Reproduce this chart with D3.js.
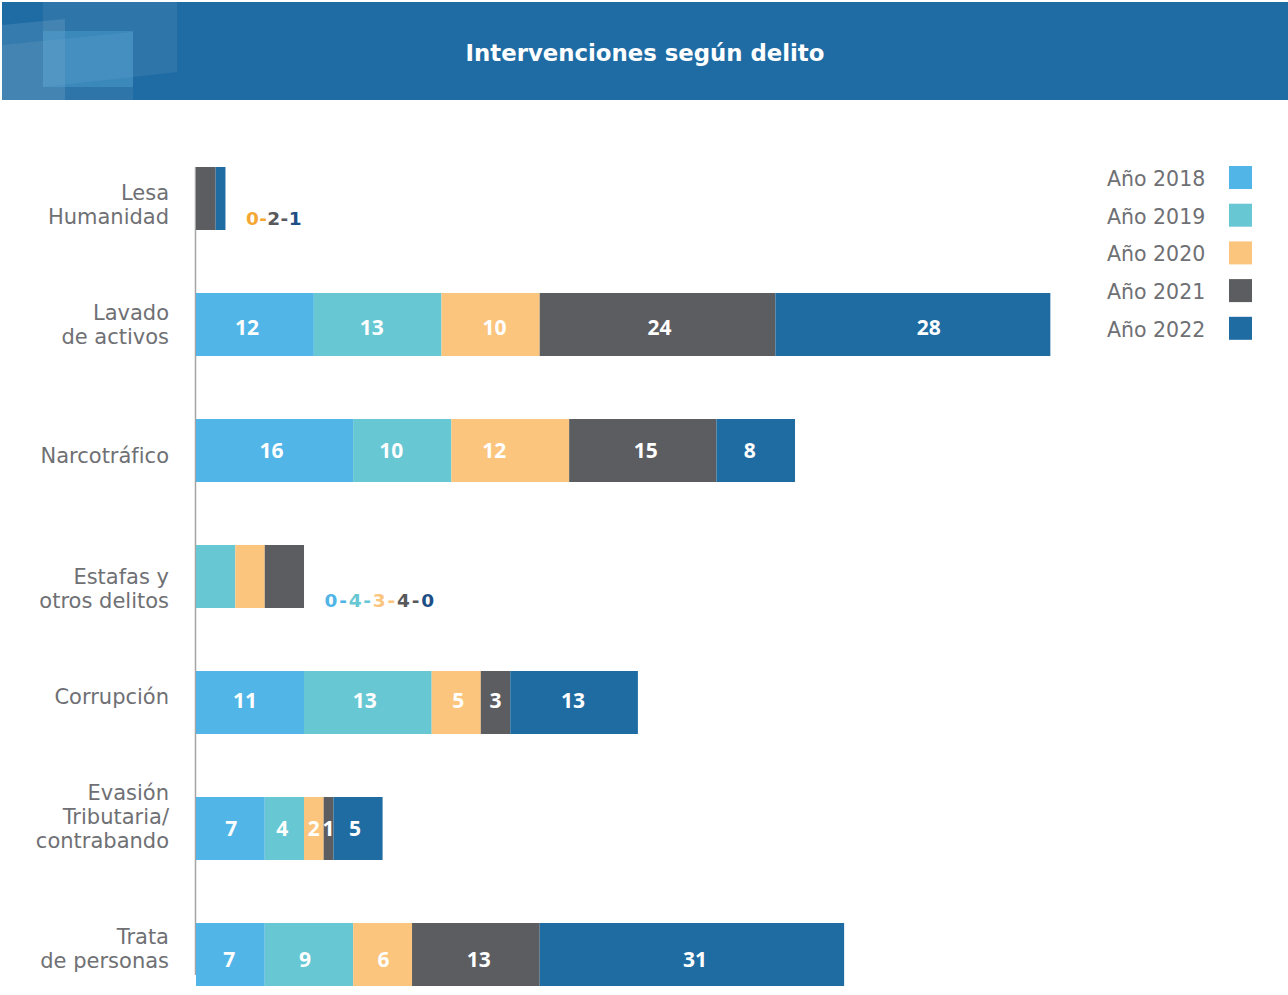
<!DOCTYPE html>
<html lang="es">
<head>
<meta charset="utf-8">
<script src="https://cdn.jsdelivr.net/npm/d3@7"></script>
<style>
  html, body { margin: 0; padding: 0; background: #ffffff; }
  svg { display: block; }
</style>
</head>
<body>
<svg id="chart" width="1288" height="995"></svg>
<script>
// ---- Data -------------------------------------------------------------
const categories = [
  ["Lesa", "Humanidad"],
  ["Lavado", "de activos"],
  ["Narcotráfico"],
  ["Estafas y", "otros delitos"],
  ["Corrupción"],
  ["Evasión", "Tributaria/", "contrabando"],
  ["Trata", "de personas"]
];
const years = ["Año 2018", "Año 2019", "Año 2020", "Año 2021", "Año 2022"];
const v2018 = [0, 12, 16, 0, 11, 7, 7];
const v2019 = [0, 13, 10, 4, 13, 4, 9];
const v2020 = [0, 10, 12, 3, 5, 2, 6];
const v2021 = [2, 24, 15, 4, 3, 1, 13];
const v2022 = [1, 28, 8, 0, 13, 5, 31];
const title = "Intervenciones según delito";

// rows whose values are written inside the segments
const labelInside = [false, true, true, false, true, true, true];
// rows whose values are written as a dashed sequence beside the bar
const sequenceRows = [0, 3];
const sequenceYears = [[2, 3, 4], [0, 1, 2, 3, 4]];

// ---- Style / layout ---------------------------------------------------
const colors = ["#52b5e7", "#67c7d3", "#fbc57e", "#5c5d61", "#1f6ca3"];
const sequencePalettes = [
  ["#4fb4e6", "#67c7d3", "#f4a733", "#58595b", "#1d4f86"],
  ["#4fb4e6", "#67c7d3", "#fbc57e", "#58595b", "#1d4f86"]
];
const sequenceDy = [-5, -1];
const sequenceSpacing = [0.4, 1.8];
const headerColor = "#1f6ca4";
const textGrey = "#6f7074";
const labelNudge = [6, 0, 5, 12, -6, -12, -6];
// hand placement of the in-bar numbers (px, per row then per year)
const valueNudgeX = [
  [0, 0, 0, 0, 0],
  [-8, -6, 4, 2, 16],
  [-3, -11, -16, 3, -6],
  [0, 0, 0, 0, 0],
  [-5, -3, 2, 0, -1],
  [1, -2, 0, 0, -3],
  [-1, -4, 1, 3, 3]
];
const valueNudgeY = [0, 2.5, -0.5, 0, -2.5, -0.5, 4.5];

const svg = d3.select("#chart");

// ---- Header band ------------------------------------------------------
const header = svg.append("g");
header.append("rect")
  .attr("x", 2).attr("y", 2).attr("width", 1286).attr("height", 98)
  .attr("fill", headerColor);
const deco = [
  { pts: [[43, 2], [177, 2], [177, 72], [43, 87]], fill: "#ffffff", op: 0.07 },
  { pts: [[2, 25], [65, 19], [65, 100], [2, 100]], fill: "#ffffff", op: 0.10 },
  { pts: [[2, 45], [133, 32], [133, 100], [2, 100]], fill: "#ffffff", op: 0.07 },
  { pts: [[43, 31], [133, 31], [133, 87], [43, 87]], fill: "#5ab4e6", op: 0.30 }
];
header.selectAll("polygon").data(deco).join("polygon")
  .attr("points", d => d.pts.map(p => p.join(",")).join(" "))
  .attr("fill", d => d.fill)
  .attr("fill-opacity", d => d.op);
header.append("text")
  .attr("x", 645).attr("y", 61)
  .attr("text-anchor", "middle")
  .attr("fill", "#ffffff")
  .attr("font-family", "DejaVu Sans")
  .attr("font-weight", "bold")
  .attr("font-size", 22.8)
  .text(title);

// ---- Scales -----------------------------------------------------------
const rows = categories.map((c, i) => ({
  idx: i,
  0: v2018[i], 1: v2019[i], 2: v2020[i], 3: v2021[i], 4: v2022[i]
}));
const keys = [0, 1, 2, 3, 4];
const stacked = d3.stack().keys(keys)(rows);

const x = d3.scaleLinear().domain([0, 100]).range([196, 1178]);
const y = d3.scaleBand()
  .domain(d3.range(categories.length))
  .range([167, 986])
  .paddingInner(0.5)
  .paddingOuter(0);

// ---- Axis line --------------------------------------------------------
svg.append("line")
  .attr("x1", 195.5).attr("x2", 195.5)
  .attr("y1", y(0)).attr("y2", 975)
  .attr("stroke", "#a4a4a4")
  .attr("stroke-width", 1.5);

// ---- Bars -------------------------------------------------------------
const layers = svg.append("g").selectAll("g").data(stacked).join("g")
  .attr("fill", d => colors[d.key]);
layers.selectAll("rect").data(d => d).join("rect")
  .attr("x", d => x(d[0]))
  .attr("y", (d, i) => y(i))
  .attr("width", d => x(d[1]) - x(d[0]))
  .attr("height", y.bandwidth());

// ---- Values inside segments ------------------------------------------
const valueLabels = [];
stacked.forEach(layer => {
  layer.forEach((d, i) => {
    const v = d[1] - d[0];
    if (labelInside[i] && v > 0) {
      valueLabels.push({
        x: (x(d[0]) + x(d[1])) / 2 + valueNudgeX[i][layer.key],
        y: y(i) + y.bandwidth() / 2 + valueNudgeY[i],
        v
      });
    }
  });
});
svg.append("g").selectAll("text").data(valueLabels).join("text")
  .attr("x", d => d.x)
  .attr("y", d => d.y + 8)
  .attr("text-anchor", "middle")
  .attr("fill", "#ffffff")
  .attr("font-family", "Open Sans")
  .attr("font-weight", 700)
  .attr("font-size", 21)
  .text(d => d.v);

// ---- Dashed value sequences beside small bars ------------------------
const allSeries = [v2018, v2019, v2020, v2021, v2022];
sequenceRows.forEach((r, k) => {
  const total = d3.sum(allSeries, s => s[r]);
  const t = svg.append("text")
    .attr("x", x(total) + 20.5)
    .attr("y", y(r) + y.bandwidth() + sequenceDy[k])
    .attr("font-family", "DejaVu Sans")
    .attr("font-weight", "bold")
    .attr("font-size", 18.5)
    .attr("letter-spacing", sequenceSpacing[k]);
  const ys = sequenceYears[k];
  ys.forEach((yr, j) => {
    t.append("tspan")
      .attr("fill", sequencePalettes[k][yr])
      .text(allSeries[yr][r] + (j < ys.length - 1 ? "-" : ""));
  });
});

// ---- Category labels --------------------------------------------------
const catG = svg.append("g")
  .attr("font-family", "DejaVu Sans")
  .attr("font-size", 21)
  .attr("fill", textGrey)
  .attr("text-anchor", "end");
categories.forEach((lines, i) => {
  const yc = y(i) + y.bandwidth() / 2;
  const first = yc + 7.5 - (lines.length - 1) * 12 + labelNudge[i];
  const t = catG.append("text").attr("x", 169).attr("y", first);
  lines.forEach((ln, j) => {
    t.append("tspan").attr("x", 169).attr("y", first + j * 24).text(ln);
  });
});

// ---- Legend -----------------------------------------------------------
const legend = svg.append("g");
const legendY = d3.scalePoint().domain(d3.range(years.length)).range([166, 316.8]);
const items = legend.selectAll("g").data(years).join("g")
  .attr("transform", (d, i) => `translate(0,${legendY(i)})`);
items.append("rect")
  .attr("x", 1229).attr("y", 0)
  .attr("width", 23).attr("height", 23)
  .attr("fill", (d, i) => colors[i]);
items.append("text")
  .attr("x", 1107).attr("y", 20)
  .attr("font-family", "DejaVu Sans")
  .attr("font-size", 20.5)
  .attr("fill", textGrey)
  .text(d => d);
</script>
</body>
</html>
